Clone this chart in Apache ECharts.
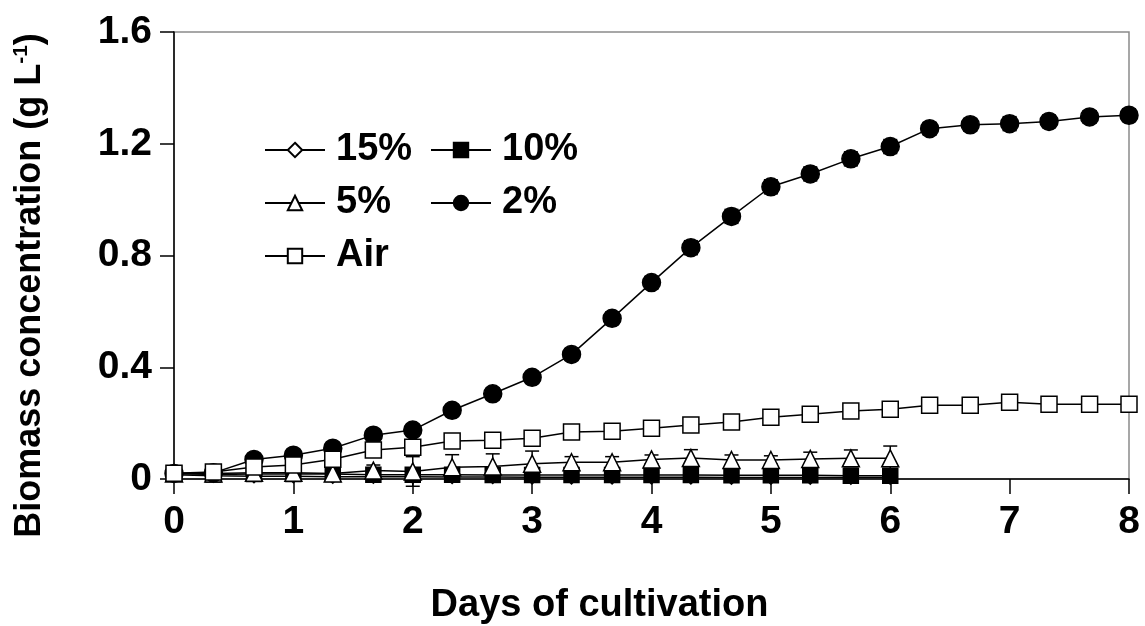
<!DOCTYPE html>
<html>
<head>
<meta charset="utf-8">
<script src="https://cdn.jsdelivr.net/npm/echarts@6/dist/echarts.min.js"></script>
<style>
  html, body { margin: 0; padding: 0; background: #fff; }
  #chart { width: 1145px; height: 626px; }
</style>
</head>
<body>
<div id="chart"></div>
<script>
// Sampling times (days), every 8 hours
const days = [0, 0.33, 0.67, 1, 1.33, 1.67, 2, 2.33, 2.67, 3, 3.33, 3.67, 4, 4.33, 4.67, 5, 5.33, 5.67, 6, 6.33, 6.67, 7, 7.33, 7.67, 8];

// Biomass concentration (g/L) for each CO2 level
const co2_15 = [0.015, 0.012, 0.01, 0.01, 0.008, 0.008, 0.008, 0.007, 0.007, 0.006, 0.006, 0.006, 0.006, 0.006, 0.005, 0.005, 0.005, 0.005, 0.005];
const co2_10 = [0.02, 0.016, 0.018, 0.018, 0.018, 0.015, 0.015, 0.015, 0.014, 0.014, 0.014, 0.014, 0.014, 0.014, 0.013, 0.013, 0.013, 0.012, 0.012];
const co2_5  = [0.02, 0.02, 0.022, 0.022, 0.02, 0.03, 0.027, 0.042, 0.045, 0.055, 0.06, 0.06, 0.07, 0.075, 0.068, 0.068, 0.072, 0.074, 0.074];
const co2_2  = [0.02, 0.022, 0.07, 0.085, 0.11, 0.157, 0.175, 0.246, 0.305, 0.364, 0.446, 0.575, 0.703, 0.828, 0.94, 1.046, 1.092, 1.146, 1.19, 1.254, 1.268, 1.272, 1.28, 1.296, 1.302];
const air    = [0.021, 0.025, 0.043, 0.05, 0.071, 0.104, 0.114, 0.136, 0.139, 0.146, 0.168, 0.171, 0.182, 0.193, 0.204, 0.221, 0.232, 0.243, 0.25, 0.264, 0.264, 0.275, 0.268, 0.268, 0.268];

// Standard deviations
const err_5 = [0.005, 0.005, 0.008, 0.01, 0.01, 0.02, 0.053, 0.045, 0.045, 0.045, 0.02, 0.02, 0.016, 0.03, 0.018, 0.015, 0.024, 0.03, 0.044];
const err_2 = [0.005, 0.005, 0.01, 0.01, 0.012, 0.015, 0.015, 0.02, 0.02, 0.02, 0.02, 0.022, 0.022, 0.025, 0.025, 0.025, 0.025, 0.025, 0.025, 0.022, 0.022, 0.025, 0.022, 0.022, 0.022];

// Axis ticks
const xTicks = { min: 0, max: 8, step: 1 };
const yTicks = { min: 0, max: 1.6, step: 0.4 };

const seriesNames = ['15%', '10%', '5%', '2%', 'Air'];

const FONT = '"Liberation Sans", Arial, Helvetica, sans-serif';
const INK = '#000';

function pairs(vals) {
  return vals.map((v, i) => [days[i], v]);
}
function errRows(vals, errs) {
  return vals.map((v, i) => [days[i], v - errs[i], v + errs[i]]);
}

function errorBars(name, vals, errs) {
  return {
    type: 'custom',
    name: name + ' SD',
    z: 1,
    clip: false,
    silent: true,
    data: errRows(vals, errs),
    encode: { x: 0, y: [1, 2] },
    renderItem: function (params, api) {
      const x = api.value(0);
      const lo = api.coord([x, api.value(1)]);
      const hi = api.coord([x, api.value(2)]);
      const half = 7;
      const style = { stroke: INK, lineWidth: 1.5, fill: null };
      return {
        type: 'group',
        children: [
          { type: 'line', shape: { x1: lo[0], y1: lo[1], x2: hi[0], y2: hi[1] }, style: style },
          { type: 'line', shape: { x1: hi[0] - half, y1: hi[1], x2: hi[0] + half, y2: hi[1] }, style: style },
          { type: 'line', shape: { x1: lo[0] - half, y1: lo[1], x2: lo[0] + half, y2: lo[1] }, style: style }
        ]
      };
    }
  };
}

function lineSeries(name, vals, symbol, size, fill) {
  return {
    type: 'line',
    name: name,
    z: 3,
    data: pairs(vals),
    symbol: symbol,
    symbolSize: size,
    showAllSymbol: true,
    clip: false,
    lineStyle: { color: INK, width: 1.5 },
    itemStyle: { color: fill, borderColor: INK, borderWidth: 1.5 },
    emphasis: { disabled: true }
  };
}

const legendText = {
  fontFamily: FONT, fontWeight: 'bold', fontSize: 38, color: INK,
  lineHeight: 40, padding: [0, 0, 0, 6]
};

const chart = echarts.init(document.getElementById('chart'), null, { renderer: 'canvas' });

chart.setOption({
  animation: false,
  backgroundColor: '#fff',
  grid: {
    left: 174, right: 16, top: 32, bottom: 147,
    outerBoundsMode: 'none',
    show: true, borderColor: '#8a8a8a', borderWidth: 1.5, backgroundColor: 'transparent'
  },
  legend: [
    {
      data: [seriesNames[0], seriesNames[2], seriesNames[4]],
      orient: 'vertical', left: 259, top: 125,
      itemWidth: 60, itemHeight: 18, itemGap: 13,
      textStyle: legendText, selectedMode: false
    },
    {
      data: [seriesNames[1], seriesNames[3]],
      orient: 'vertical', left: 425, top: 125,
      itemWidth: 60, itemHeight: 18, itemGap: 13,
      textStyle: legendText, selectedMode: false
    }
  ],
  xAxis: {
    type: 'value',
    min: xTicks.min, max: xTicks.max, interval: xTicks.step,
    name: 'Days of cultivation',
    nameLocation: 'middle',
    nameGap: 108,
    nameTextStyle: {
      fontFamily: FONT, fontWeight: 'bold', fontSize: 38, color: INK,
      padding: [0, 104, 0, 0]
    },
    axisLine: { lineStyle: { color: INK, width: 1.5 } },
    axisTick: { inside: false, length: 15, lineStyle: { color: INK, width: 1.5 } },
    axisLabel: { margin: 24, fontFamily: FONT, fontWeight: 'bold', fontSize: 39, color: INK },
    splitLine: { show: false }
  },
  yAxis: {
    type: 'value',
    min: yTicks.min, max: yTicks.max, interval: yTicks.step,
    name: '{t|Biomass concentration (g L}{s|-1}{t|)}',
    nameLocation: 'middle',
    nameRotate: 90,
    nameGap: 126,
    nameTextStyle: {
      color: INK,
      padding: [0, 60, 0, 0],
      rich: {
        t: { fontFamily: FONT, fontWeight: 'bold', fontSize: 36, color: INK, lineHeight: 40, verticalAlign: 'bottom' },
        s: { fontFamily: FONT, fontWeight: 'bold', fontSize: 21, color: INK, lineHeight: 40, verticalAlign: 'top', padding: [3, 0, 0, 0] }
      }
    },
    axisLine: { show: true, lineStyle: { color: INK, width: 1.5 } },
    axisTick: { show: true, inside: false, length: 14, lineStyle: { color: INK, width: 1.5 } },
    axisLabel: { margin: 22, fontFamily: FONT, fontWeight: 'bold', fontSize: 39, color: INK },
    splitLine: { show: false }
  },
  series: [
    errorBars('5%', co2_5, err_5),
    errorBars('2%', co2_2, err_2),
    lineSeries(seriesNames[0], co2_15, 'diamond', 13, '#fff'),
    lineSeries(seriesNames[1], co2_10, 'rect', 15, '#000'),
    lineSeries(seriesNames[2], co2_5, 'triangle', 17, '#fff'),
    lineSeries(seriesNames[3], co2_2, 'circle', 18, '#000'),
    lineSeries(seriesNames[4], air, 'rect', 16, '#fff')
  ]
});
</script>
</body>
</html>
